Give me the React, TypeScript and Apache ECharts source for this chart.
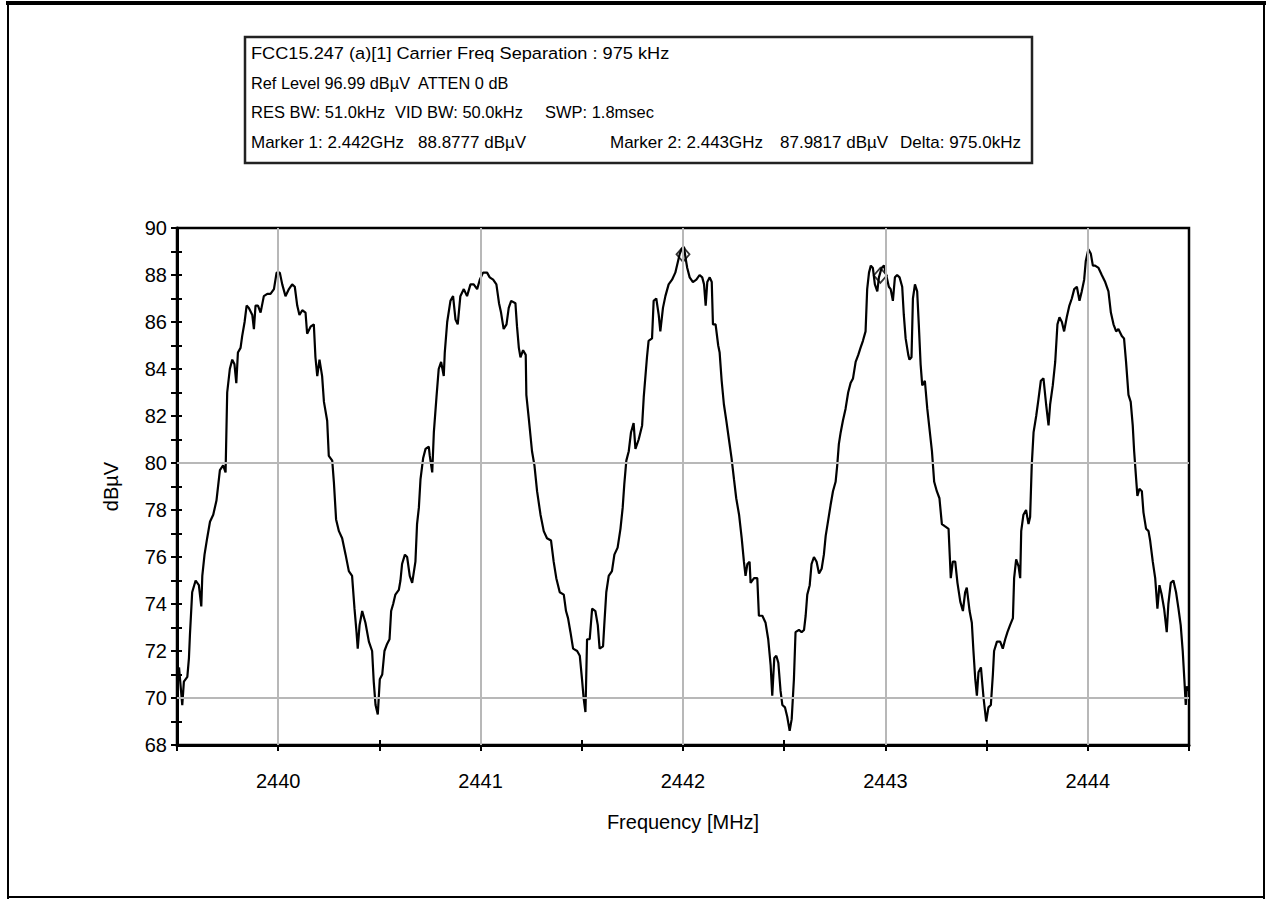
import { useEffect, useRef } from "react";
import * as echarts from "echarts";

const FONT = '"Liberation Sans", Arial, sans-serif';

// Spectrum analyzer sweep: [frequency MHz, level dBµV]
const spectrumTrace: [number, number][] = [
  [2439.510, 71.3], [2439.526, 69.7], [2439.534, 70.7], [2439.551, 70.9], [2439.559, 71.7], [2439.564, 72.7],
  [2439.575, 74.5], [2439.592, 75.0], [2439.608, 74.8], [2439.620, 73.9], [2439.625, 75.2], [2439.636, 76.1],
  [2439.649, 76.8], [2439.663, 77.5], [2439.679, 77.8], [2439.695, 78.4], [2439.712, 79.7], [2439.728, 79.9],
  [2439.740, 79.6], [2439.748, 83.0], [2439.761, 84.0], [2439.773, 84.4], [2439.784, 84.2], [2439.793, 83.4],
  [2439.801, 84.7], [2439.814, 84.9], [2439.822, 85.4], [2439.834, 86.0], [2439.844, 86.7], [2439.855, 86.6],
  [2439.872, 86.3], [2439.880, 85.7], [2439.888, 86.7], [2439.900, 86.7], [2439.913, 86.4], [2439.929, 87.1],
  [2439.946, 87.2], [2439.962, 87.2], [2439.979, 87.4], [2439.992, 88.1], [2440.008, 88.1], [2440.020, 87.6],
  [2440.036, 87.1], [2440.053, 87.4], [2440.069, 87.6], [2440.082, 87.5], [2440.094, 86.7], [2440.105, 86.3],
  [2440.119, 86.5], [2440.135, 86.4], [2440.143, 85.5], [2440.160, 85.8], [2440.176, 85.9], [2440.184, 84.5],
  [2440.193, 83.7], [2440.204, 84.4], [2440.217, 83.7], [2440.226, 82.6], [2440.242, 81.8], [2440.250, 80.3],
  [2440.267, 80.1], [2440.275, 79.2], [2440.286, 77.6], [2440.300, 77.1], [2440.316, 76.8], [2440.333, 76.1],
  [2440.349, 75.4], [2440.365, 75.2], [2440.377, 73.8], [2440.387, 72.8], [2440.393, 72.1], [2440.402, 73.1],
  [2440.415, 73.7], [2440.431, 73.2], [2440.448, 72.4], [2440.464, 72.0], [2440.472, 70.7], [2440.481, 69.7],
  [2440.492, 69.3], [2440.502, 70.8], [2440.514, 71.0], [2440.525, 72.0], [2440.538, 72.3], [2440.550, 72.5],
  [2440.558, 73.7], [2440.568, 74.0], [2440.579, 74.4], [2440.596, 74.6], [2440.604, 75.0], [2440.612, 75.7],
  [2440.626, 76.1], [2440.637, 76.0], [2440.650, 75.2], [2440.662, 74.9], [2440.678, 75.8], [2440.686, 77.4],
  [2440.695, 78.1], [2440.703, 79.3], [2440.716, 80.2], [2440.728, 80.6], [2440.744, 80.7],
  [2440.749, 80.3], [2440.761, 79.6], [2440.769, 81.3], [2440.782, 82.8], [2440.793, 84.0], [2440.805, 84.3],
  [2440.818, 83.7], [2440.823, 84.7], [2440.835, 86.0], [2440.851, 86.9], [2440.864, 87.1], [2440.876, 86.1],
  [2440.887, 85.9], [2440.900, 87.1], [2440.917, 87.4], [2440.933, 87.1], [2440.950, 87.6], [2440.966, 87.6],
  [2440.983, 87.4], [2440.996, 87.8], [2441.012, 88.1], [2441.032, 88.1], [2441.045, 87.9], [2441.062, 87.8],
  [2441.078, 87.6], [2441.091, 86.8], [2441.101, 86.4], [2441.114, 85.7], [2441.128, 85.9], [2441.139, 86.6],
  [2441.151, 86.9], [2441.172, 86.8], [2441.180, 85.8], [2441.189, 84.9], [2441.197, 84.5], [2441.210, 84.8],
  [2441.223, 84.6], [2441.226, 82.9], [2441.238, 81.9], [2441.254, 80.5], [2441.266, 79.9], [2441.279, 78.8],
  [2441.296, 77.8], [2441.312, 77.1], [2441.328, 76.8], [2441.348, 76.7], [2441.361, 75.8], [2441.374, 75.1],
  [2441.391, 74.5], [2441.411, 74.4], [2441.422, 73.7], [2441.432, 73.4], [2441.444, 72.8], [2441.457, 72.1],
  [2441.477, 72.0], [2441.490, 71.8], [2441.501, 70.8], [2441.509, 70.0], [2441.518, 69.4], [2441.526, 72.5],
  [2441.539, 72.5], [2441.551, 73.8], [2441.567, 73.7], [2441.579, 73.1], [2441.588, 72.1], [2441.605, 72.2],
  [2441.611, 73.1], [2441.621, 74.5], [2441.633, 75.2], [2441.649, 75.4], [2441.661, 76.1], [2441.677, 76.4],
  [2441.691, 77.2], [2441.702, 78.1], [2441.710, 79.1], [2441.720, 80.1], [2441.732, 80.5], [2441.743, 81.3],
  [2441.756, 81.7], [2441.765, 80.6], [2441.781, 81.0], [2441.798, 81.6], [2441.806, 82.8], [2441.822, 84.5],
  [2441.830, 85.2], [2441.847, 85.3], [2441.855, 86.9], [2441.868, 87.0], [2441.880, 86.3], [2441.888, 85.6],
  [2441.901, 86.6], [2441.913, 87.1], [2441.929, 87.6], [2441.946, 87.8], [2441.962, 88.1], [2441.984, 88.9],
  [2441.993, 89.1], [2442.005, 89.2], [2442.013, 88.7], [2442.021, 88.3], [2442.033, 87.9], [2442.049, 87.7],
  [2442.066, 87.8], [2442.082, 88.0], [2442.095, 87.9], [2442.104, 87.6], [2442.112, 86.7], [2442.120, 87.7],
  [2442.132, 87.9], [2442.142, 87.7], [2442.148, 85.9], [2442.161, 85.9], [2442.174, 85.0], [2442.181, 84.7],
  [2442.191, 83.5], [2442.202, 82.5], [2442.214, 81.8], [2442.227, 81.0], [2442.240, 80.2], [2442.252, 79.3],
  [2442.263, 78.5], [2442.277, 77.8], [2442.290, 76.8], [2442.301, 75.8], [2442.309, 75.2], [2442.318, 75.7],
  [2442.329, 75.8], [2442.334, 74.9], [2442.351, 75.1], [2442.367, 75.1], [2442.375, 73.5], [2442.392, 73.5],
  [2442.408, 73.2], [2442.421, 72.5], [2442.433, 71.4], [2442.441, 70.1], [2442.451, 71.7], [2442.461, 71.8],
  [2442.471, 71.5], [2442.482, 70.3], [2442.491, 69.7], [2442.504, 69.6], [2442.515, 69.2], [2442.527, 68.6],
  [2442.537, 69.1], [2442.548, 70.8], [2442.556, 72.8], [2442.573, 72.9], [2442.586, 72.8], [2442.598, 72.9],
  [2442.606, 73.5], [2442.614, 74.4], [2442.626, 74.8], [2442.635, 75.7], [2442.647, 76.0], [2442.660, 75.8],
  [2442.672, 75.3], [2442.685, 75.5], [2442.696, 76.1], [2442.705, 76.9], [2442.718, 77.6], [2442.729, 78.2],
  [2442.741, 78.8], [2442.754, 79.2], [2442.762, 79.9], [2442.770, 80.8], [2442.779, 81.3], [2442.790, 81.8],
  [2442.803, 82.3], [2442.816, 83.0], [2442.828, 83.4], [2442.840, 83.6], [2442.853, 84.3], [2442.866, 84.6],
  [2442.877, 84.9], [2442.889, 85.2], [2442.902, 85.6], [2442.910, 87.4], [2442.919, 88.1], [2442.928, 88.4],
  [2442.938, 88.3], [2442.948, 87.6], [2442.960, 87.3], [2442.968, 87.9], [2442.981, 88.3], [2442.993, 88.4],
  [2443.004, 88.0], [2443.017, 87.5], [2443.026, 87.4], [2443.037, 86.9], [2443.047, 87.9], [2443.058, 88.0],
  [2443.070, 87.9], [2443.083, 87.5], [2443.091, 86.3], [2443.100, 85.3], [2443.113, 84.6], [2443.119, 84.4],
  [2443.129, 84.5], [2443.136, 87.0], [2443.146, 87.6], [2443.157, 87.3], [2443.165, 85.9], [2443.174, 84.2],
  [2443.182, 83.3], [2443.195, 83.5], [2443.207, 82.3],
  [2443.230, 80.5], [2443.241, 79.2], [2443.254, 78.8], [2443.267, 78.5], [2443.279, 77.4], [2443.295, 77.3],
  [2443.312, 77.2], [2443.323, 75.1], [2443.333, 75.8], [2443.345, 75.8], [2443.356, 74.9], [2443.370, 74.1],
  [2443.383, 73.7], [2443.394, 74.5], [2443.402, 74.7], [2443.416, 73.7], [2443.427, 73.2], [2443.435, 72.0],
  [2443.444, 70.8], [2443.452, 70.1], [2443.460, 71.1], [2443.472, 71.3], [2443.485, 70.0], [2443.498, 69.0],
  [2443.509, 69.6], [2443.521, 69.7], [2443.531, 71.0], [2443.537, 72.0], [2443.551, 72.4], [2443.567, 72.4],
  [2443.580, 72.1], [2443.592, 72.5], [2443.603, 72.8], [2443.616, 73.1], [2443.630, 73.4], [2443.636, 75.1],
  [2443.646, 75.9], [2443.658, 75.6], [2443.666, 75.1], [2443.671, 77.1], [2443.682, 77.8], [2443.695, 78.0],
  [2443.707, 77.4], [2443.715, 77.7], [2443.723, 79.9], [2443.732, 81.3], [2443.745, 82.0], [2443.756, 82.7],
  [2443.768, 83.5], [2443.781, 83.6], [2443.794, 82.5], [2443.806, 81.6], [2443.814, 82.5], [2443.827, 83.3],
  [2443.839, 84.3], [2443.850, 85.9], [2443.860, 86.2], [2443.872, 86.0], [2443.883, 85.6], [2443.896, 86.2],
  [2443.909, 86.7], [2443.921, 87.0], [2443.933, 87.4], [2443.946, 87.5], [2443.959, 86.9], [2443.970, 87.3],
  [2443.982, 87.8], [2443.990, 88.6], [2444.003, 89.1], [2444.015, 88.9], [2444.025, 88.4], [2444.036, 88.4],
  [2444.053, 88.3], [2444.069, 88.0], [2444.086, 87.7], [2444.102, 87.3], [2444.114, 86.4], [2444.127, 85.9],
  [2444.140, 85.6], [2444.151, 85.7], [2444.168, 85.4], [2444.179, 85.3], [2444.189, 84.3], [2444.201, 82.9],
  [2444.212, 82.6], [2444.222, 81.6], [2444.229, 80.5], [2444.239, 79.3], [2444.245, 78.6], [2444.255, 78.9],
  [2444.267, 78.8], [2444.275, 77.9], [2444.288, 77.2], [2444.300, 77.1], [2444.308, 76.7], [2444.321, 75.8],
  [2444.333, 75.1], [2444.344, 73.8], [2444.354, 74.8], [2444.365, 74.4], [2444.377, 73.8], [2444.390, 72.8],
  [2444.398, 74.0], [2444.410, 74.9], [2444.423, 75.0], [2444.436, 74.5], [2444.448, 73.8], [2444.459, 73.1],
  [2444.469, 72.0], [2444.477, 70.8], [2444.484, 69.7], [2444.489, 70.5], [2444.497, 70.3],
];

// Marker 1 and Marker 2 readouts
const markerPoints: [number, number][] = [
  [2442.0, 88.8777],
  [2442.975, 87.9817],
];

const xRange = [2439.5, 2444.5];
const yRange = [68, 90];
const xLabelValues = [2440, 2441, 2442, 2443, 2444];
const yLabelValues = [68, 70, 72, 74, 76, 78, 80, 82, 84, 86, 88, 90];
const xGridValues = [2440, 2441, 2442, 2443, 2444];
const yGridValues = [70, 80];

const xAxisTitle = "Frequency [MHz]";
const yAxisTitle = "dBµV";

const headerRow1 = ["FCC15.247 (a)[1] Carrier Freq Separation : 975 kHz"];
const headerRow2 = ["Ref Level 96.99 dBµV", "ATTEN 0 dB"];
const headerRow3 = ["RES BW: 51.0kHz", "VID BW: 50.0kHz", "SWP: 1.8msec"];
const headerRow4 = ["Marker 1: 2.442GHz", "88.8777 dBµV", "Marker 2: 2.443GHz", "87.9817 dBµV", "Delta: 975.0kHz"];

export default function App() {
  const ref = useRef<HTMLDivElement>(null);

  useEffect(() => {
    if (!ref.current) return;
    const chart = echarts.init(ref.current, null, { renderer: "svg" });

    const headerFont = `17px ${FONT}`;
    const rows = [
      { texts: headerRow1, xs: [251], y: 53, sx: 1.07 },
      { texts: headerRow2, xs: [251, 418], y: 83, sx: 0.96 },
      { texts: headerRow3, xs: [251, 395, 545], y: 112, sx: 0.97 },
      { texts: headerRow4, xs: [251, 418, 610, 780, 900], y: 142, sx: 1 },
    ];
    const headerTexts: any[] = [];
    rows.forEach((row) => {
      row.texts.forEach((t, i) => {
        headerTexts.push({
          type: "text",
          x: row.xs[i],
          y: row.y,
          scaleX: row.sx,
          silent: true,
          style: { text: t, font: headerFont, fill: "#000", verticalAlign: "middle", align: "left" },
        });
      });
    });

    const labelStyle = { color: "#000", fontSize: 20, fontFamily: FONT };

    const option: any = {
      animation: false,
      backgroundColor: "#fff",
      grid: {
        left: 177,
        top: 228,
        right: 81,
        bottom: 154,
        containLabel: false,
        outerBoundsMode: "none",
        show: true,
        borderColor: "#000",
        borderWidth: 2.5,
        backgroundColor: "transparent",
      },
      xAxis: [
        {
          type: "value",
          min: xRange[0],
          max: xRange[1],
          interval: 0.5,
          position: "bottom",
          axisLine: { show: true, onZero: false, lineStyle: { color: "#000", width: 3 } },
          axisTick: { show: true, length: 6, lineStyle: { color: "#000", width: 2 } },
          axisLabel: {
            ...labelStyle,
            margin: 26,
            formatter: (v: number) => (xLabelValues.includes(v) ? String(v) : ""),
          },
          splitLine: { show: false },
          name: xAxisTitle,
          nameLocation: "middle",
          nameGap: 67,
          nameTextStyle: { ...labelStyle },
        },
        {
          type: "value",
          min: xRange[0],
          max: xRange[1],
          interval: 0.5,
          position: "bottom",
          axisLine: { show: false, onZero: false },
          axisTick: { show: true, inside: true, length: 5, lineStyle: { color: "#000", width: 2 } },
          axisLabel: { show: false },
          splitLine: { show: false },
        },
      ],
      yAxis: [
        {
          type: "value",
          min: yRange[0],
          max: yRange[1],
          interval: 1,
          position: "left",
          axisLine: { show: true, onZero: false, lineStyle: { color: "#000", width: 3 } },
          axisTick: { show: true, length: 6, lineStyle: { color: "#000", width: 2 } },
          axisLabel: {
            ...labelStyle,
            margin: 10,
            formatter: (v: number) => (yLabelValues.includes(v) ? String(v) : ""),
          },
          splitLine: { show: false },
          name: yAxisTitle,
          nameLocation: "middle",
          nameGap: 56,
          nameRotate: 90,
          nameTextStyle: { ...labelStyle },
        },
        {
          type: "value",
          min: yRange[0],
          max: yRange[1],
          interval: 1,
          position: "left",
          axisLine: { show: false, onZero: false },
          axisTick: { show: true, inside: true, length: 5, lineStyle: { color: "#000", width: 2 } },
          axisLabel: { show: false },
          splitLine: { show: false },
        },
      ],
      series: [
        {
          type: "line",
          data: [],
          silent: true,
          markLine: {
            silent: true,
            symbol: ["none", "none"],
            label: { show: false },
            lineStyle: { color: "#b8b8b8", width: 2, type: "solid" },
            emphasis: { disabled: true },
            data: [
              ...xGridValues.map((v) => ({ xAxis: v })),
              ...yGridValues.map((v) => ({ yAxis: v })),
            ],
          },
        },
        {
          type: "line",
          name: "Trace",
          data: spectrumTrace,
          showSymbol: false,
          symbol: "none",
          silent: true,
          lineStyle: { color: "#000", width: 2.2 },
          z: 3,
        },
        {
          type: "scatter",
          name: "Markers",
          data: markerPoints,
          symbol: "diamond",
          symbolSize: [13, 15],
          silent: true,
          itemStyle: { color: "rgba(255,255,255,0)", borderColor: "#000", borderWidth: 1.8 },
          z: 4,
        },
      ],
      graphic: [
        { type: "line", silent: true, shape: { x1: 6, y1: 3, x2: 1266, y2: 3 }, style: { stroke: "#000", lineWidth: 4 } },
        { type: "line", silent: true, shape: { x1: 8, y1: 3, x2: 8, y2: 899 }, style: { stroke: "#000", lineWidth: 2 } },
        { type: "line", silent: true, shape: { x1: 1264, y1: 3, x2: 1264, y2: 899 }, style: { stroke: "#000", lineWidth: 2 } },
        { type: "line", silent: true, shape: { x1: 8, y1: 897, x2: 1264, y2: 897 }, style: { stroke: "#000", lineWidth: 2 } },
        {
          type: "rect",
          silent: true,
          shape: { x: 245, y: 37, width: 787, height: 126 },
          style: { fill: "#fff", stroke: "#222", lineWidth: 2.5 },
        },
        ...headerTexts,
      ],
    };

    chart.setOption(option);
    return () => chart.dispose();
  }, []);

  return (
    <div
      ref={ref}
      style={{ position: "fixed", left: 0, top: 0, width: 1270, height: 899, background: "#fff" }}
    />
  );
}
